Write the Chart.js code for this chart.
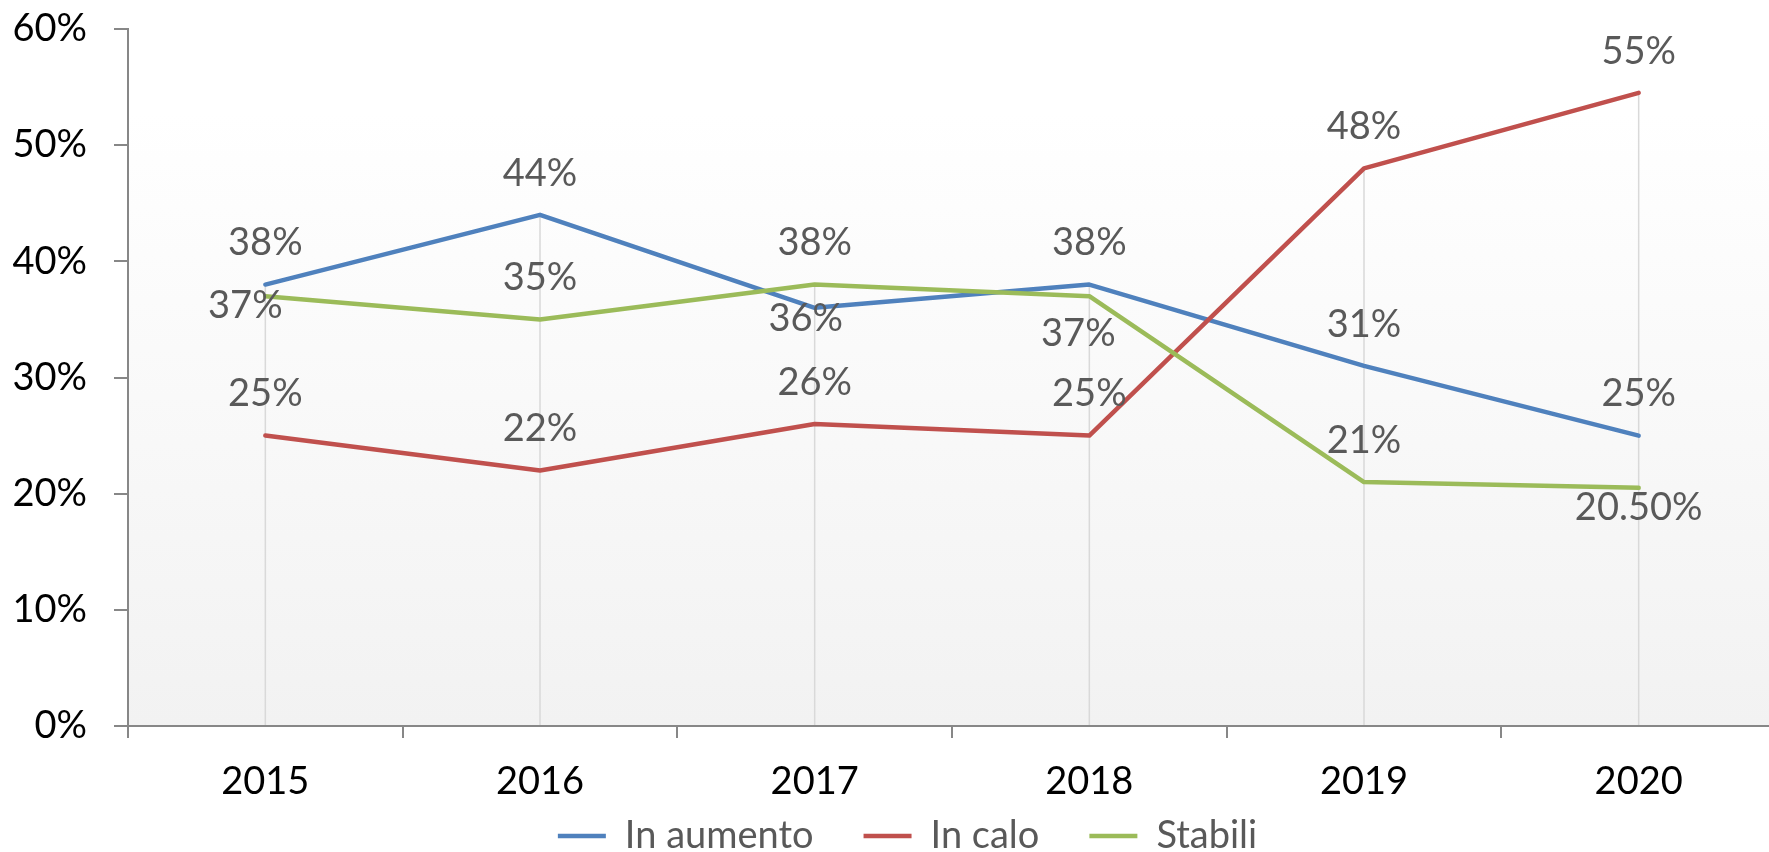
<!DOCTYPE html>
<html>
<head>
<meta charset="utf-8">
<script src="https://cdn.jsdelivr.net/npm/chart.js@4.4.1/dist/chart.umd.min.js"></script>
<style>
html,body{margin:0;padding:0;background:#ffffff;overflow:hidden;width:1769px;height:852px}
#wrap{position:absolute;left:0;top:0;width:1776px;height:852px}
</style>
</head>
<body>
<div id="wrap"><canvas id="c" width="1776" height="852"></canvas></div>
<script>
// ---- data ----
const categories = ['2015', '2016', '2017', '2018', '2019', '2020'];
const seriesNames = ['In aumento', 'In calo', 'Stabili'];
const inAumento = [38, 44, 36, 38, 31, 25];
const inCalo = [25, 22, 26, 25, 48, 54.5];
const stabili = [37, 35, 38, 37, 21, 20.5];
const labelsAumento = ['38%', '44%', '36%', '38%', '31%', '25%'];
const labelsCalo = ['25%', '22%', '26%', '25%', '48%', '55%'];
const labelsStabili = ['37%', '35%', '38%', '37%', '21%', '20.50%'];
const yMin = 0, yMax = 60, yStep = 10;

// ---- styling (label placement relative to each point, text centre) ----
const ABOVE = [0, -43];
const labelPlacement = [
  [ABOVE, ABOVE, [-9, 10], ABOVE, ABOVE, ABOVE],
  [ABOVE, ABOVE, ABOVE, ABOVE, ABOVE, ABOVE],
  [[-20, 8], ABOVE, ABOVE, [-11, 36], ABOVE, [0, 18]]
];
const labelTexts = [labelsAumento, labelsCalo, labelsStabili];
const colors = ['#4f81bd', '#c0504d', '#9bbb59'];
const axisColor = '#878787';
const FONT = 'Lato, "Open Sans", sans-serif';
const LABEL_SIZE = 38;
const LEGEND_PAD = 50;
const LEGEND_CENTER_Y = 836;
const X_AXIS_H = 80;
const LEGEND_H = LABEL_SIZE + LEGEND_PAD + 10;

const bgPlugin = {
  id: 'bgGradient',
  beforeDraw(chart) {
    const {ctx, chartArea: a} = chart;
    const g = ctx.createLinearGradient(0, a.top, 0, a.bottom);
    g.addColorStop(0, '#ffffff');
    g.addColorStop(0.12, '#ffffff');
    g.addColorStop(1, '#f2f2f2');
    ctx.save();
    ctx.fillStyle = g;
    ctx.fillRect(a.left, a.top, a.right - a.left, a.bottom - a.top);
    ctx.restore();
  }
};

const dropLinePlugin = {
  id: 'dropLines',
  beforeDatasetsDraw(chart) {
    const {ctx} = chart;
    const xs = chart.scales.x, ys = chart.scales.y;
    ctx.save();
    ctx.strokeStyle = '#d9d9d9';
    ctx.lineWidth = 1.5;
    categories.forEach((c, i) => {
      const maxV = Math.max(...chart.data.datasets.map(d => d.data[i]));
      const px = xs.getPixelForValue(i);
      ctx.beginPath();
      ctx.moveTo(px, ys.getPixelForValue(maxV));
      ctx.lineTo(px, ys.bottom - 1);
      ctx.stroke();
    });
    ctx.restore();
  }
};

const dataLabelPlugin = {
  id: 'dataLabels',
  afterDatasetsDraw(chart) {
    const {ctx} = chart;
    ctx.save();
    ctx.font = LABEL_SIZE + 'px ' + FONT;
    ctx.fillStyle = '#595959';
    ctx.textAlign = 'center';
    ctx.textBaseline = 'alphabetic';
    const capHalf = LABEL_SIZE * 0.72 / 2;
    chart.data.datasets.forEach((ds, di) => {
      const meta = chart.getDatasetMeta(di);
      meta.data.forEach((pt, i) => {
        const [dx, dy] = labelPlacement[di][i];
        ctx.fillText(labelTexts[di][i], pt.x + dx, pt.y + dy + capHalf);
      });
    });
    ctx.restore();
  }
};

const legendPlacePlugin = {
  id: 'legendPlace',
  afterLayout(chart) {
    const lg = chart.legend;
    if (lg) {
      lg.left = 0;
      lg.right = 1815;
      lg.top = LEGEND_CENTER_Y - LABEL_SIZE / 2 - LEGEND_PAD;
      lg.bottom = lg.top + lg.height;
    }
  }
};

const seriesData = [inAumento, inCalo, stabili];
new Chart(document.getElementById('c'), {
  type: 'line',
  data: {
    labels: categories,
    datasets: seriesData.map((d, i) => ({
      label: seriesNames[i],
      data: d,
      borderColor: colors[i],
      backgroundColor: colors[i],
      borderWidth: 4.5,
      pointRadius: 0,
      pointHoverRadius: 0,
      tension: 0,
      fill: false,
      borderCapStyle: 'round',
      borderJoinStyle: 'round',
      order: 3 - i
    }))
  },
  options: {
    responsive: false,
    animation: false,
    events: [],
    layout: {padding: {top: 29, left: 0, right: 0, bottom: 852 - 726 - X_AXIS_H - LEGEND_H}},
    plugins: {
      tooltip: {enabled: false},
      legend: {
        display: true,
        position: 'bottom',
        align: 'center',
        labels: {
          font: {family: FONT, size: LABEL_SIZE},
          color: '#595959',
          usePointStyle: true,
          pointStyle: 'line',
          pointStyleWidth: 48,
          boxHeight: LABEL_SIZE,
          padding: LEGEND_PAD,
          sort: (a, b) => a.datasetIndex - b.datasetIndex
        }
      }
    },
    scales: {
      x: {
        type: 'category',
        offset: true,
        afterFit(s) { s.height = X_AXIS_H; s.paddingLeft = 0; s.paddingRight = 0; },
        grid: {
          offset: true,
          drawOnChartArea: false,
          drawTicks: true,
          tickLength: 12,
          color: axisColor,
          lineWidth: 2
        },
        border: {display: true, color: axisColor, width: 2},
        ticks: {
          font: {family: FONT, size: LABEL_SIZE},
          color: '#000000',
          padding: 21,
          maxRotation: 0,
          autoSkip: false
        }
      },
      y: {
        min: yMin,
        max: yMax,
        afterFit(s) { s.width = 128; s.paddingTop = 0; s.paddingBottom = 0; },
        grid: {
          drawOnChartArea: false,
          drawTicks: true,
          tickLength: 14,
          color: axisColor,
          lineWidth: 2
        },
        border: {display: true, color: axisColor, width: 2},
        ticks: {
          stepSize: yStep,
          font: {family: FONT, size: LABEL_SIZE},
          color: '#000000',
          padding: 27,
          callback: v => v + '%'
        }
      }
    }
  },
  plugins: [bgPlugin, dropLinePlugin, dataLabelPlugin, legendPlacePlugin]
});
</script>
</body>
</html>
